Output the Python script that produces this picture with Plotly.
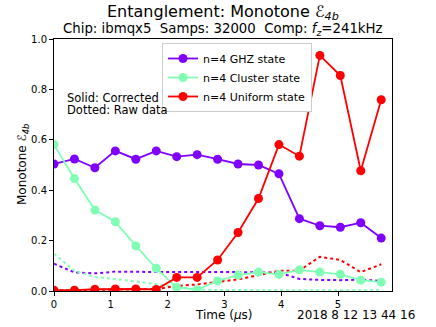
import plotly.graph_objects as go

t = [round(0.36 * i, 2) for i in range(17)]

ghz = [0.504, 0.524, 0.489, 0.556, 0.523, 0.556, 0.533, 0.541, 0.523,
       0.504, 0.500, 0.465, 0.287, 0.259, 0.253, 0.271, 0.210]
cluster = [0.581, 0.446, 0.321, 0.275, 0.179, 0.090, 0.014, 0.005, 0.040,
           0.063, 0.075, 0.066, 0.084, 0.075, 0.066, 0.043, 0.035]
uniform = [0.003, 0.003, 0.007, 0.008, 0.008, 0.006, 0.054, 0.054, 0.123,
           0.232, 0.367, 0.581, 0.535, 0.935, 0.855, 0.477, 0.759]

ghz_raw = [0.108, 0.074, 0.070, 0.077, 0.076, 0.075, 0.075, 0.075, 0.075,
           0.075, 0.074, 0.073, 0.048, 0.044, 0.043, 0.045, 0.040]
cluster_raw = [0.148, 0.080, 0.056, 0.048, 0.038, 0.027, 0.015, 0.006, 0.004,
               0.003, 0.003, 0.003, 0.003, 0.003, 0.003, 0.003, 0.003]
uniform_raw = [0.002, 0.003, 0.004, 0.005, 0.006, 0.008, 0.020, 0.026, 0.036,
               0.046, 0.063, 0.080, 0.081, 0.136, 0.123, 0.075, 0.106]

names = ["n=4 GHZ state", "n=4 Cluster state", "n=4 Uniform state"]
colors = ["#8000ff", "#80ffb4", "#ff0000"]

fig = go.Figure()
for raw, c in zip([ghz_raw, cluster_raw, uniform_raw], colors):
    fig.add_trace(go.Scatter(x=t, y=raw, mode="lines", showlegend=False,
                             line=dict(color=c, width=2, dash="dot")))
for ys, n, c in zip([ghz, cluster, uniform], names, colors):
    fig.add_trace(go.Scatter(x=t, y=ys, mode="lines+markers", name=n,
                             line=dict(color=c, width=1.8),
                             marker=dict(color=c, size=9)))

# plot area is 54..392 px wide, 39..291 px tall
def px_x(v):
    return (v - 54) / 338

def px_y(v):
    return (291 - v) / 252

notes = [
    ("Entanglement: Monotone ℰ<sub><i>4b</i></sub>", 223, 13, 16, 0, "center"),
    ("Chip: ibmqx5  Samps: 32000  Comp: <i>f</i><sub><i>z</i></sub>=241kHz", 223, 30, 13.3, 0, "center"),
    ("Solid: Corrected", 65, 98, 11.5, 0, "left"),
    ("Dotted: Raw data", 65, 110, 11.5, 0, "left"),
    ("2018 8 12 13 44 16", 417, 315, 12, 0, "right"),
    ("Time (<i>μ</i>s)", 223, 315, 12, 0, "center"),
    ("Monotone ℰ<sub><i>4b</i></sub>", 23, 165, 12, -90, "center"),
]
annotations = []
for text, x, y, size, ang, anchor in notes:
    annotations.append(dict(text=text, x=px_x(x), y=px_y(y), xref="paper", yref="paper",
                            xanchor=anchor, yanchor="middle", align="left",
                            textangle=ang, showarrow=False, font=dict(size=size)))

fig.update_layout(
    width=436, height=327,
    margin=dict(l=54, r=44, t=39, b=36),
    paper_bgcolor="white", plot_bgcolor="white",
    font=dict(family="DejaVu Sans", size=11, color="black"),
    legend=dict(x=px_x(162), y=px_y(43), xanchor="left", yanchor="top",
                bgcolor="white", bordercolor="#cccccc", borderwidth=1,
                font=dict(size=11), tracegroupgap=0, itemwidth=30),
    annotations=annotations,
)
fig.update_xaxes(range=[0, 5.95], tickvals=[0, 1, 2, 3, 4, 5], automargin=False,
                 tickfont=dict(size=10),
                 showgrid=False, zeroline=False, showline=True, linecolor="black",
                 mirror=True, ticks="outside", ticklen=4, tickcolor="black")
fig.update_yaxes(range=[0, 1.0], tickvals=[0, 0.2, 0.4, 0.6, 0.8, 1.0], automargin=False,
                 tickformat=".1f", tickfont=dict(size=10),
                 showgrid=False, zeroline=False, showline=True, linecolor="black",
                 mirror=True, ticks="outside", ticklen=4, tickcolor="black")

fig.write_html("out.html", config={"displayModeBar": False},
               post_script="document.body.style.margin='0';")
